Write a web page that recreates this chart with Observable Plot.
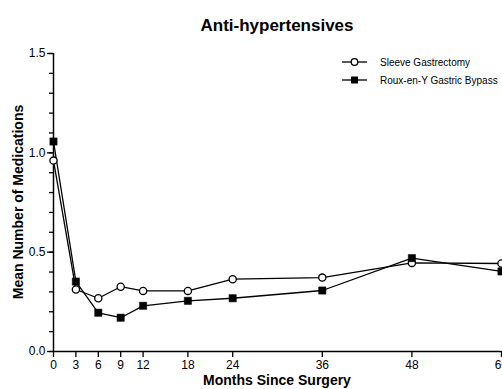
<!DOCTYPE html>
<html>
<head>
<meta charset="utf-8">
<script src="https://cdn.jsdelivr.net/npm/d3@7"></script>
<script src="https://cdn.jsdelivr.net/npm/@observablehq/plot@0.6"></script>
<style>
  html, body { margin: 0; padding: 0; background: #fff; overflow: hidden; }
  #wrap { position: relative; width: 502px; height: 389px; font-family: "Liberation Sans", Arial, sans-serif; color: #000; }
  #wrap svg { position: absolute; left: 0; top: 0; }
  .title { position: absolute; left: 53px; width: 448px; top: 16px; text-align: center; font-weight: bold; font-size: 17px; }
  .xlab { position: absolute; left: 53px; width: 448px; top: 372px; text-align: center; font-weight: bold; font-size: 14px; }
  .ylab { position: absolute; left: 18px; top: 202px; transform: translate(-50%, -50%) rotate(-90deg); white-space: nowrap; font-weight: bold; font-size: 14px; }
  .legend { position: absolute; left: 342px; top: 53px; font-size: 10px; }
  .legend .row { display: flex; align-items: center; height: 18px; }
  .legend svg { position: static !important; margin-right: 13px; }
</style>
</head>
<body>
<div id="wrap"></div>
<script>
const months = [0, 3, 6, 9, 12, 18, 24, 36, 48, 60];
const sleeve = [0.961, 0.312, 0.268, 0.326, 0.305, 0.305, 0.364, 0.372, 0.446, 0.443];
const rygb = [1.057, 0.352, 0.195, 0.170, 0.230, 0.255, 0.268, 0.307, 0.470, 0.403];
const seriesNames = ["Sleeve Gastrectomy", "Roux-en-Y Gastric Bypass"];
const yMajor = [0, 0.5, 1.0, 1.5];
const yMinor = d3.range(0, 16).map(i => i / 10);

const sData = months.map((m, i) => ({m, v: sleeve[i]}));
const rData = months.map((m, i) => ({m, v: rygb[i]}));

const chart = Plot.plot({
  width: 502,
  height: 389,
  marginLeft: 53,
  marginRight: 1,
  marginTop: 53,
  marginBottom: 38,
  style: {fontSize: "12px", fontFamily: "Liberation Sans, Arial, sans-serif", color: "#000", background: "transparent"},
  x: {domain: [0, 60]},
  y: {domain: [0, 1.5]},
  marks: [
    Plot.axisY(yMinor, {tickSize: 4, tickFormat: () => "", label: null, strokeWidth: 1.3}),
    Plot.axisY(yMajor, {tickSize: 6, tickFormat: d3.format(".1f"), tickPadding: 2, label: null, strokeWidth: 1.3}),
    Plot.axisX(months, {tickSize: 6, tickPadding: 3, label: null, strokeWidth: 1.3}),
    Plot.ruleX([0], {strokeWidth: 1.5}),
    Plot.ruleY([0], {strokeWidth: 1.5}),
    Plot.line(sData, {x: "m", y: "v", stroke: "#000", strokeWidth: 1.3}),
    Plot.line(rData, {x: "m", y: "v", stroke: "#000", strokeWidth: 1.3}),
    Plot.dot(sData, {x: "m", y: "v", symbol: "circle", r: 3.6, fill: "#fff", stroke: "#000", strokeWidth: 1.3}),
    Plot.dot(rData, {x: "m", y: "v", symbol: "square", r: 4.1, fill: "#000", stroke: "#000", strokeWidth: 0.5})
  ]
});

const wrap = document.getElementById("wrap");
wrap.appendChild(chart);

const t = document.createElement("div"); t.className = "title"; t.textContent = "Anti-hypertensives"; wrap.appendChild(t);
const xl = document.createElement("div"); xl.className = "xlab"; xl.textContent = "Months Since Surgery"; wrap.appendChild(xl);
const yl = document.createElement("div"); yl.className = "ylab"; yl.textContent = "Mean Number of Medications"; wrap.appendChild(yl);

const leg = document.createElement("div"); leg.className = "legend";
seriesNames.forEach((name, i) => {
  const row = document.createElement("div"); row.className = "row";
  const ns = "http://www.w3.org/2000/svg";
  const s = document.createElementNS(ns, "svg");
  s.setAttribute("width", "25"); s.setAttribute("height", "12");
  const ln = document.createElementNS(ns, "line");
  ln.setAttribute("x1", 0); ln.setAttribute("x2", 25); ln.setAttribute("y1", 6); ln.setAttribute("y2", 6);
  ln.setAttribute("stroke", "#000"); ln.setAttribute("stroke-width", 1.3);
  s.appendChild(ln);
  if (i === 0) {
    const c = document.createElementNS(ns, "circle");
    c.setAttribute("cx", 12.5); c.setAttribute("cy", 6); c.setAttribute("r", 3.3);
    c.setAttribute("fill", "#fff"); c.setAttribute("stroke", "#000"); c.setAttribute("stroke-width", 1.3);
    s.appendChild(c);
  } else {
    const r = document.createElementNS(ns, "rect");
    r.setAttribute("x", 9); r.setAttribute("y", 2.5); r.setAttribute("width", 7); r.setAttribute("height", 7);
    r.setAttribute("fill", "#000");
    s.appendChild(r);
  }
  row.appendChild(s);
  const sp = document.createElement("span"); sp.textContent = name; row.appendChild(sp);
  leg.appendChild(row);
});
wrap.appendChild(leg);
</script>
</body>
</html>
